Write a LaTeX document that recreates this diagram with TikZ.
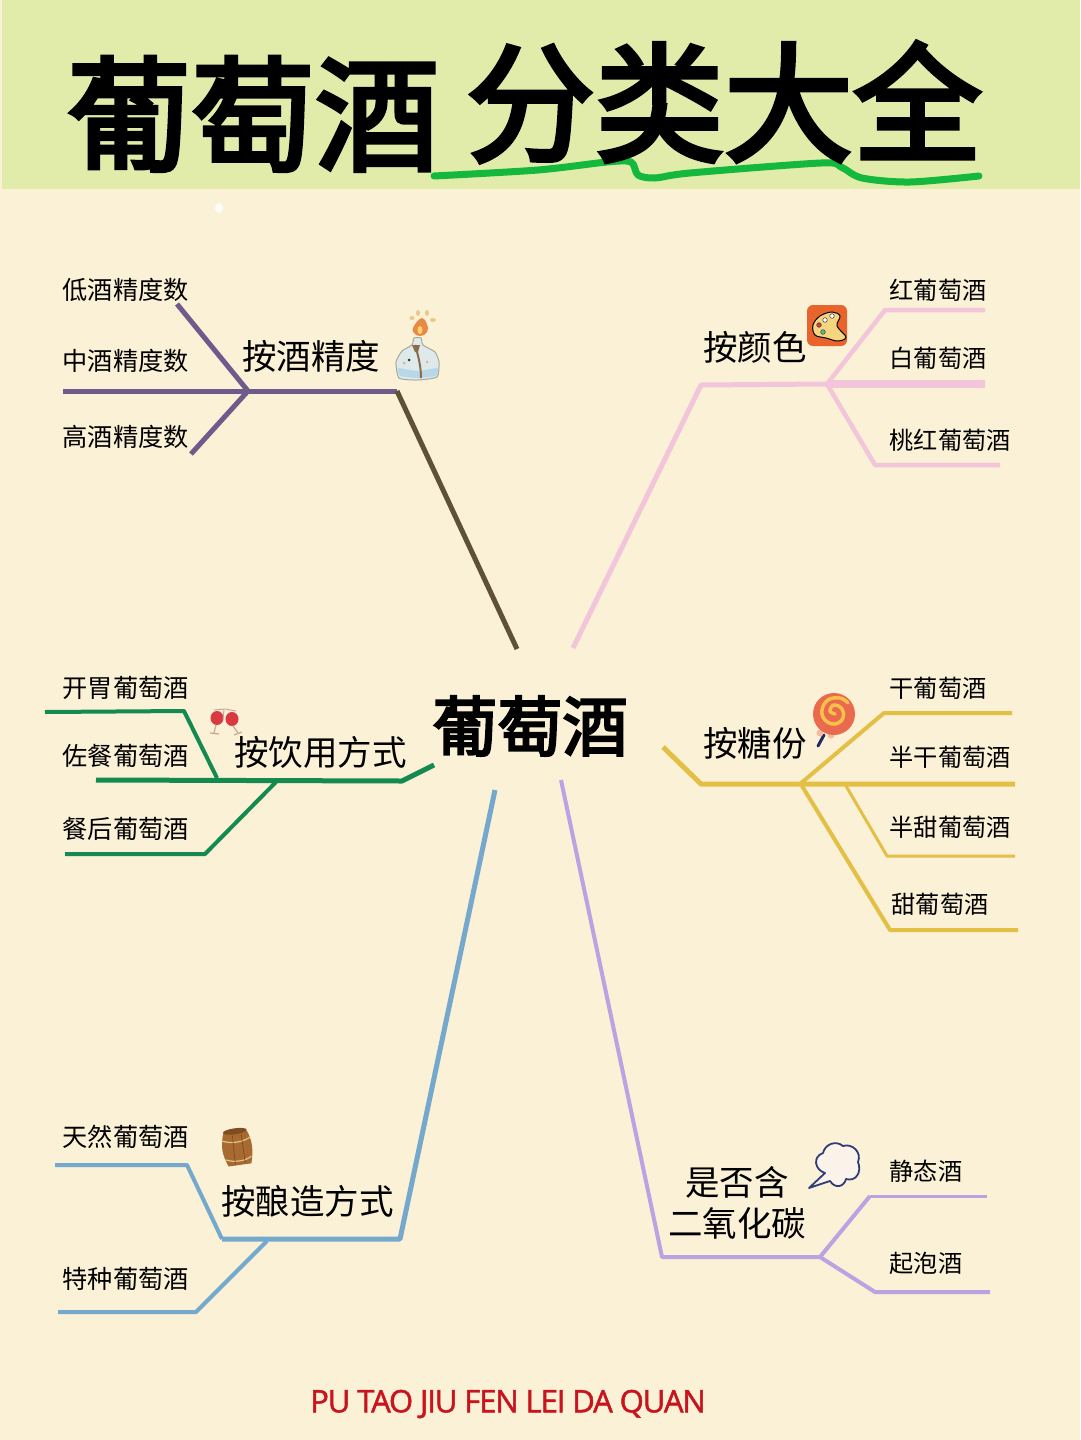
\documentclass[tikz,border=0pt]{standalone}
\usepackage{fontspec}
\setmainfont{Noto Sans CJK SC}
\newfontfamily\heavyfont[FakeBold=3.6]{Noto Sans CJK SC}
\newfontfamily\footfont[LetterSpace=-3.6,FakeBold=1.6]{Open Sans}
\definecolor{pagebg}{HTML}{FAF1D6}
\definecolor{headbg}{HTML}{E1EBAA}
\definecolor{cplum}{HTML}{6F5A8C}
\definecolor{cbrown}{HTML}{5E5138}
\definecolor{cpink}{HTML}{F2C5DA}
\definecolor{cgold}{HTML}{E3BF45}
\definecolor{cgreen}{HTML}{148A50}
\definecolor{cblue}{HTML}{74A8CC}
\definecolor{clav}{HTML}{BBA2E2}
\definecolor{cunder}{HTML}{14B83C}
\definecolor{cfoot}{HTML}{C8141E}
\definecolor{petal}{HTML}{E8C98A}
\definecolor{flame}{HTML}{E88A45}
\definecolor{flamein}{HTML}{F8D36A}
\definecolor{glass}{HTML}{DDE9EA}
\definecolor{water}{HTML}{B8D8EA}
\definecolor{glassline}{HTML}{A8A89C}
\definecolor{wick}{HTML}{8E6B48}
\definecolor{palbg}{HTML}{E8642C}
\definecolor{palfill}{HTML}{F5D67E}
\definecolor{winered}{HTML}{D93A42}
\definecolor{stem}{HTML}{C9A89A}
\definecolor{lolly}{HTML}{EA6A4E}
\definecolor{swirl}{HTML}{F6C04A}
\definecolor{navy}{HTML}{23285F}
\definecolor{wrap}{HTML}{F4B9A0}
\definecolor{wood}{HTML}{A86A30}
\definecolor{woodd}{HTML}{7F4C22}
\definecolor{band}{HTML}{DFC48A}
\definecolor{cloudf}{HTML}{FBF3EA}
\definecolor{cloudl}{HTML}{2F3C78}
\newcommand{\fs}[1]{\fontsize{#1}{#1}\selectfont}
\tikzset{
  leaflabel/.style={inner sep=0pt,anchor=west,font=\fs{25.2}},
  leafright/.style={inner sep=0pt,anchor=west,font=\fs{24.2}},
  midlabel/.style={inner sep=0pt,anchor=west,font=\fs{34.5}},
  titlelabel/.style={inner sep=0pt,font=\heavyfont\fs{124}},
  wire/.style={line width=#1,line join=round,line cap=butt},
  wire/.default=4pt
}
\begin{document}
\begin{tikzpicture}[x=1pt,y=-1pt]
\useasboundingbox (0,0) rectangle (1080,1440);
\fill[pagebg] (0,0) rectangle (1080,1440);
\fill[headbg] (2,0) rectangle (1080,189);
\fill[white,opacity=.9] (219,208) ellipse (4 and 5);

% underline
\draw[cunder,line width=7pt,line cap=round,line join=round]
  plot[smooth,tension=.5] coordinates {(434,176) (538,170) (607,162) (631,162) (638,175) (655,178) (690,173) (821,163) (841,167) (862,178) (910,182) (979,176)};

% titles
\node[titlelabel] (tA) at (253,114) {葡萄酒};
\node[titlelabel,font=\heavyfont\fs{129}] (tB) at (724,102) {分类大全};
\node[inner sep=0pt,font=\heavyfont\fs{65}] (centre) at (530,726) {葡萄酒};
\node[inner sep=0pt,font=\footfont\fs{31},text=cfoot] (foot) at (508,1404) {PU TAO JIU FEN LEI DA QUAN};

% plum / brown
\coordinate (a0) at (63,391); \coordinate (a1) at (248,391); \coordinate (a2) at (397,391);
\coordinate (a3) at (177,304); \coordinate (a4) at (191,454); \coordinate (a5) at (517,649);
\draw[wire=5pt,cplum] (a0)--(a2);
\draw[wire=5pt,cplum] (a3)--(a1)--(a4);
\draw[wire=5pt,cbrown] (a2)--(a5);

% pink
\coordinate (b0) at (573,648); \coordinate (b1) at (701,385); \coordinate (b2) at (985,384);
\coordinate (b3) at (827,384); \coordinate (b4) at (885,310); \coordinate (b5) at (985,310);
\coordinate (b6) at (875,465); \coordinate (b7) at (1000,465);
\draw[wire=5pt,cpink] (b0)--(b1)--(b3);
\draw[wire=7.5pt,cpink] (b3)--(b2);
\draw[wire=4.5pt,cpink] (b3)--(b4)--(b5);
\draw[wire=4.5pt,cpink] (b3)--(b6)--(b7);

% gold
\coordinate (c0) at (663,747); \coordinate (c1) at (701,784); \coordinate (c2) at (1015,784);
\coordinate (c3) at (800,784); \coordinate (c4) at (884,713); \coordinate (c5) at (1012,713);
\coordinate (c6) at (846,786); \coordinate (c7) at (887,856); \coordinate (c8) at (1015,856);
\coordinate (c9) at (802,786); \coordinate (c10) at (890,930); \coordinate (c11) at (1018,930);
\draw[wire=5pt,cgold] (c0)--(c1)--(c2);
\draw[wire=4pt,cgold] (c3)--(c4)--(c5);
\draw[wire=3pt,cgold] (c6)--(c7)--(c8);
\draw[wire=4pt,cgold] (c9)--(c10)--(c11);

% green
\coordinate (d0) at (434,765); \coordinate (d1) at (402,781); \coordinate (d2) at (96,780);
\coordinate (d3) at (217,778); \coordinate (d4) at (184,711); \coordinate (d5) at (45,712);
\coordinate (d6) at (276,782); \coordinate (d7) at (205,854); \coordinate (d8) at (65,854);
\draw[wire=5pt,cgreen] (d0)--(d1)--(d2);
\draw[wire=4pt,cgreen] (d3)--(d4)--(d5);
\draw[wire=4pt,cgreen] (d6)--(d7)--(d8);

% blue
\coordinate (e0) at (495,790); \coordinate (e1) at (400,1239); \coordinate (e2) at (222,1239);
\coordinate (e3) at (187,1165); \coordinate (e4) at (55,1165);
\coordinate (e5) at (267,1241); \coordinate (e6) at (196,1312); \coordinate (e7) at (58,1312);
\draw[wire=5pt,cblue] (e0)--(e1)--(e2);
\draw[wire=4pt,cblue] (e2)--(e3)--(e4);
\draw[wire=4pt,cblue] (e5)--(e6)--(e7);

% lavender
\coordinate (f0) at (561,780); \coordinate (f1) at (662,1257); \coordinate (f2) at (820,1257);
\coordinate (f3) at (870,1196); \coordinate (f4) at (987,1196);
\coordinate (f5) at (875,1292); \coordinate (f6) at (990,1292);
\draw[wire=4pt,clav] (f0)--(f1)--(f2);
\draw[wire=4pt,clav] (f3)--(f2)--(f5)--(f6);
\draw[wire=3pt,clav] (f3)--(f4);

% labels
\node[midlabel] (m1) at (242,356) {按酒精度};
\node[midlabel] (m2) at (703,347) {按颜色};
\node[midlabel] (m3) at (234,752) {按饮用方式};
\node[midlabel] (m4) at (703,743) {按糖份};
\node[midlabel] (m5) at (221,1201) {按酿造方式};
\node[midlabel,anchor=center] (m6) at (737,1182) {是否含};
\node[midlabel,anchor=center] (m7) at (737,1223) {二氧化碳};

\node[leaflabel] (l1) at (62.5,290) {低酒精度数};
\node[leaflabel] (l2) at (62.5,361) {中酒精度数};
\node[leaflabel] (l3) at (62.5,437) {高酒精度数};
\node[leaflabel] (l4) at (62.5,688) {开胃葡萄酒};
\node[leaflabel] (l5) at (62.5,756) {佐餐葡萄酒};
\node[leaflabel] (l6) at (62.5,829) {餐后葡萄酒};
\node[leaflabel] (l7) at (62.5,1137) {天然葡萄酒};
\node[leaflabel] (l8) at (62.5,1279) {特种葡萄酒};
\node[leafright] (r1) at (889.5,290) {红葡萄酒};
\node[leafright] (r2) at (889.5,358) {白葡萄酒};
\node[leafright] (r3) at (889.5,440) {桃红葡萄酒};
\node[leafright] (r4) at (889.5,688) {干葡萄酒};
\node[leafright] (r5) at (889.5,757) {半干葡萄酒};
\node[leafright] (r6) at (889.5,827) {半甜葡萄酒};
\node[leafright] (r7) at (891.5,904) {甜葡萄酒};
\node[leafright] (r8) at (889.5,1171) {静态酒};
\node[leafright] (r9) at (889.5,1263) {起泡酒};

% icon: bottle
\fill[petal] (412,318) ellipse (2.5 and 2);
\fill[petal] (418,313) ellipse (2 and 3);
\fill[petal] (427,313) ellipse (2 and 3);
\fill[petal] (433,320) ellipse (3 and 2);
\fill[flame] plot[smooth cycle,tension=.7] coordinates {(422,318) (428,328) (424,335) (416,335) (413,328)};
\fill[flamein] (420,330) ellipse (2.5 and 4);
\draw[glassline,fill=glass,line width=1pt,line join=round]
  plot[smooth cycle,tension=.35] coordinates {(414,338) (421,338) (423,345) (435,352) (439,362) (437,377) (417,380) (399,378) (396,362) (402,351) (412,345)};
\fill[water] plot[smooth cycle,tension=.2] coordinates {(398,368) (417,371) (438,368) (436,376) (417,378) (400,376)};
\draw[wick,line width=2pt] (415,345) .. controls (419,358) and (421,368) .. (421,378);
\fill[wick] (412,345) -- (420,345) -- (418,352) -- (415,352) -- cycle;
\fill[black!80] (409,360) circle (1.5);
\fill[flame!70] (404,363) circle (1.5);
\fill[flame!70] (427,362) circle (1.5);

% icon: palette
\fill[palbg,rounded corners=6pt] (807,305) rectangle (847,346);
\draw[black,line width=1pt,fill=palfill]
  plot[smooth cycle,tension=.6] coordinates {(813,325) (820,316) (832,312) (840,316) (837,326) (846,337) (838,341) (826,338) (815,335)};
\draw[black!70,line width=.6pt,fill=winered] (819,325) circle (2.3);
\draw[black!70,line width=.6pt,fill=white] (825,320) circle (2.3);
\draw[black!70,line width=.6pt,fill=white] (832,316) circle (2.3);
\draw[black!70,line width=.6pt,fill=cblue!70!green] (823,332) circle (2.3);

% icon: wine glasses
\fill[winered] (217,718) ellipse (6.5 and 7);
\fill[winered] (232,719) ellipse (6.5 and 7);
\draw[stem,line width=1pt] (214,710) -- (224,709) -- (223,720);
\draw[stem,line width=1pt] (225,709) -- (236,711);
\draw[stem,line width=1.2pt] (216,725) -- (214,733);
\draw[stem,line width=1.2pt] (210,733) -- (219,734);
\draw[stem,line width=1.2pt] (233,726) -- (238,733);
\draw[stem,line width=1.2pt] (234,735) -- (242,732);

% icon: lollipop
\draw[navy,line width=3pt,line cap=round] (824,735) -- (818,746);
\fill[wrap] (820,733) circle (3.5);
\fill[wrap] (831,735) circle (3.5);
\fill[lolly] (834,714) circle (21);
\draw[swirl,line width=3.5pt,line cap=round]
  plot[smooth,tension=.7] coordinates {(835,714) (830,711) (834,705) (842,709) (843,718) (835,724) (825,720) (822,710) (828,700) (840,698) (848,703)};

% icon: barrel
\begin{scope}[rotate around={8:(238,1147)}]
\fill[wood] (225,1132) .. controls (221,1145) and (221,1152) .. (226,1165) -- (249,1165) .. controls (253,1152) and (253,1142) .. (249,1132) -- cycle;
\fill[woodd] (237,1131) ellipse (12 and 3);
\draw[band,line width=1.2pt] (223,1139) .. controls (232,1143) and (243,1143) .. (251,1139);
\draw[band,line width=1.2pt] (224,1158) .. controls (232,1162) and (243,1162) .. (250,1158);
\draw[woodd,line width=.7pt] (234,1135) -- (233,1164);
\draw[woodd,line width=.7pt] (243,1135) -- (243,1164);
\end{scope}

% icon: cloud
\draw[cloudl,line width=1.8pt,fill=cloudf,line join=round]
  (825,1173) .. controls (815,1170) and (812,1157) .. (823,1153)
  .. controls (825,1144) and (836,1140) .. (843,1146)
  .. controls (852,1143) and (862,1152) .. (858,1162)
  .. controls (862,1172) and (856,1182) .. (846,1179)
  .. controls (844,1187) and (835,1189) .. (830,1181)
  -- (809,1188) -- cycle;
\end{tikzpicture}
\end{document}
